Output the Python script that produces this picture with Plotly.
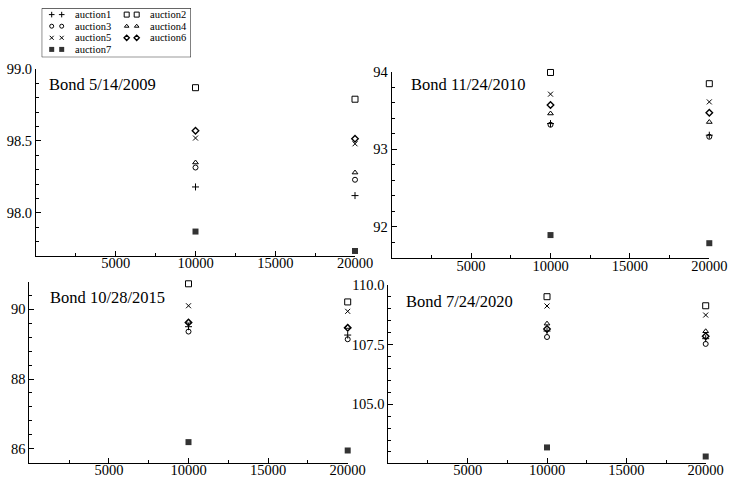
import plotly.graph_objects as go

W, H = 731, 481
FONT = "Liberation Serif"

# ---------------- data ----------------
amounts = [10000, 20000]
series_names = ["auction1", "auction2", "auction3", "auction4", "auction5", "auction6", "auction7"]
bond_titles = ["Bond 5/14/2009", "Bond 11/24/2010", "Bond 10/28/2015", "Bond 7/24/2020"]

bond_2009_a1 = [98.18, 98.12]
bond_2009_a2 = [98.87, 98.79]
bond_2009_a3 = [98.315, 98.23]
bond_2009_a4 = [98.35, 98.28]
bond_2009_a5 = [98.52, 98.48]
bond_2009_a6 = [98.57, 98.515]
bond_2009_a7 = [97.87, 97.735]

bond_2010_a1 = [93.33, 93.18]
bond_2010_a2 = [93.99, 93.845]
bond_2010_a3 = [93.315, 93.16]
bond_2010_a4 = [93.46, 93.35]
bond_2010_a5 = [93.71, 93.61]
bond_2010_a6 = [93.57, 93.47]
bond_2010_a7 = [91.89, 91.785]

bond_2015_a1 = [89.50, 89.26]
bond_2015_a2 = [90.73, 90.21]
bond_2015_a3 = [89.36, 89.14]
bond_2015_a4 = [89.64, 89.49]
bond_2015_a5 = [90.10, 89.94]
bond_2015_a6 = [89.62, 89.47]
bond_2015_a7 = [86.19, 85.95]

bond_2020_a1 = [108.07, 107.75]
bond_2020_a2 = [109.51, 109.13]
bond_2020_a3 = [107.82, 107.53]
bond_2020_a4 = [108.38, 108.06]
bond_2020_a5 = [109.12, 108.74]
bond_2020_a6 = [108.16, 107.85]
bond_2020_a7 = [103.19, 102.81]

x_tickvals = [5000, 10000, 15000, 20000]
x_minor_tickvals = [2500, 7500, 12500, 17500]

panels = [
    [bond_2009_a1, bond_2009_a2, bond_2009_a3, bond_2009_a4, bond_2009_a5, bond_2009_a6, bond_2009_a7],
    [bond_2010_a1, bond_2010_a2, bond_2010_a3, bond_2010_a4, bond_2010_a5, bond_2010_a6, bond_2010_a7],
    [bond_2015_a1, bond_2015_a2, bond_2015_a3, bond_2015_a4, bond_2015_a5, bond_2015_a6, bond_2015_a7],
    [bond_2020_a1, bond_2020_a2, bond_2020_a3, bond_2020_a4, bond_2020_a5, bond_2020_a6, bond_2020_a7],
]

# ---------------- styles / layout ----------------
marker_styles = [
    dict(symbol="cross-thin-open", size=5, color="black", line=dict(width=1, color="black")),
    dict(symbol="square-open", size=6, color="black", line=dict(width=1, color="black")),
    dict(symbol="circle-open", size=5, color="black", line=dict(width=1, color="black")),
    dict(symbol="triangle-up-open", size=5, color="black", line=dict(width=1, color="black")),
    dict(symbol="x-thin-open", size=5, color="black", line=dict(width=1, color="black")),
    dict(symbol="diamond-open", size=5, color="black", line=dict(width=1.4, color="black")),
    dict(symbol="square", size=6, color="#333333", line=dict(width=0)),
]

# pixel boxes of the four plot areas: (left, right, top, bottom)
boxes = [(36, 355, 69, 256), (391.7, 709.3, 71.7, 258.3),
         (29.3, 347.7, 281.7, 462.7), (388.3, 705.7, 285, 462.7)]
y_ranges = [(97.70, 99.0), (91.59, 94.0), (85.6, 90.79), (102.55, 110.0)]
y_dticks = [0.5, 1, 2, 2.5]
y_minor = [0.1, 0.2, 0.4, 0.5]
y_formats = [".1f", "d", "d", ".1f"]
title_pos = [(47, 84), (409, 85), (47.7, 297), (404.3, 301)]

fig = go.Figure()

for p, data in enumerate(panels):
    xa = "x" if p == 0 else f"x{p+1}"
    ya = "y" if p == 0 else f"y{p+1}"
    for s, vals in enumerate(data):
        fig.add_trace(go.Scatter(
            x=amounts, y=vals, mode="markers", name=series_names[s],
            marker=marker_styles[s], xaxis=xa, yaxis=ya,
            showlegend=False, cliponaxis=False, hoverinfo="x+y+name"))

    l, r, t, b = boxes[p]
    axis_common = dict(showgrid=False, zeroline=False, showline=True, linecolor="black",
                       linewidth=1, ticks="inside", ticklen=5, tickcolor="black", tickwidth=1,
                       automargin=False,
                       tickfont=dict(family=FONT, size=14.5, color="black"))
    xkey = "xaxis" if p == 0 else f"xaxis{p+1}"
    ykey = "yaxis" if p == 0 else f"yaxis{p+1}"
    fig.layout[xkey] = dict(
        domain=[l / W, r / W], range=[0, 20000], anchor=ya,
        tickmode="array", tickvals=x_tickvals, tickformat="d", ticklabelstandoff=-6,
        minor=dict(tickmode="array", tickvals=x_minor_tickvals, ticks="inside",
                   ticklen=3, tickcolor="black"),
        **axis_common)
    fig.layout[ykey] = dict(
        domain=[1 - b / H, 1 - t / H], range=list(y_ranges[p]), anchor=xa,
        tick0=0, dtick=y_dticks[p], tickformat=y_formats[p],
        minor=dict(dtick=y_minor[p], tick0=0, ticks="inside", ticklen=3, tickcolor="black"),
        **axis_common)
    fig.add_annotation(xref="paper", yref="paper", x=title_pos[p][0] / W, y=1 - title_pos[p][1] / H,
                       text=bond_titles[p], showarrow=False, xanchor="left", yanchor="middle",
                       font=dict(family=FONT, size=16.5, color="black"))

# ---------------- hand-drawn legend (2 columns x 4 rows) ----------------
LEG_L, LEG_R, LEG_T, LEG_B = 41.7, 191, 8.3, 57.3
ROW0, ROW_H = 14.6, 11.6
COL_X = [51.7, 126.7]
MK_GAP = 10
TXT_OFF = 21.5

fig.layout["xaxis5"] = dict(domain=[LEG_L / W, LEG_R / W], range=[LEG_L, LEG_R],
                            visible=False, anchor="y5", fixedrange=True, automargin=False)
fig.layout["yaxis5"] = dict(domain=[1 - LEG_B / H, 1 - LEG_T / H], range=[LEG_B, LEG_T],
                            visible=False, anchor="x5", fixedrange=True, automargin=False)
fig.add_shape(type="rect", xref="x5", yref="y5", x0=LEG_L, x1=LEG_R, y0=LEG_T, y1=LEG_B,
              line=dict(color="black", width=1), layer="below")
for s, name in enumerate(series_names):
    row, col = divmod(s, 2)
    yy = ROW0 + row * ROW_H
    xx = COL_X[col]
    ms = dict(marker_styles[s])
    ms["size"] = max(ms["size"] - 1, 4)
    fig.add_trace(go.Scatter(x=[xx, xx + MK_GAP], y=[yy, yy], mode="markers", marker=ms,
                             xaxis="x5", yaxis="y5", showlegend=False, hoverinfo="skip",
                             cliponaxis=False))
    fig.add_annotation(xref="x5", yref="y5", x=xx + TXT_OFF, y=yy, text=name, showarrow=False,
                       xanchor="left", yanchor="middle",
                       font=dict(family=FONT, size=10.5, color="black"))

fig.update_layout(width=W, height=H, margin=dict(l=0, r=0, t=0, b=0, pad=0, autoexpand=False),
                  paper_bgcolor="white", plot_bgcolor="rgba(0,0,0,0)", showlegend=False,
                  font=dict(family=FONT, color="black"))

fig.write_html("out.html")
